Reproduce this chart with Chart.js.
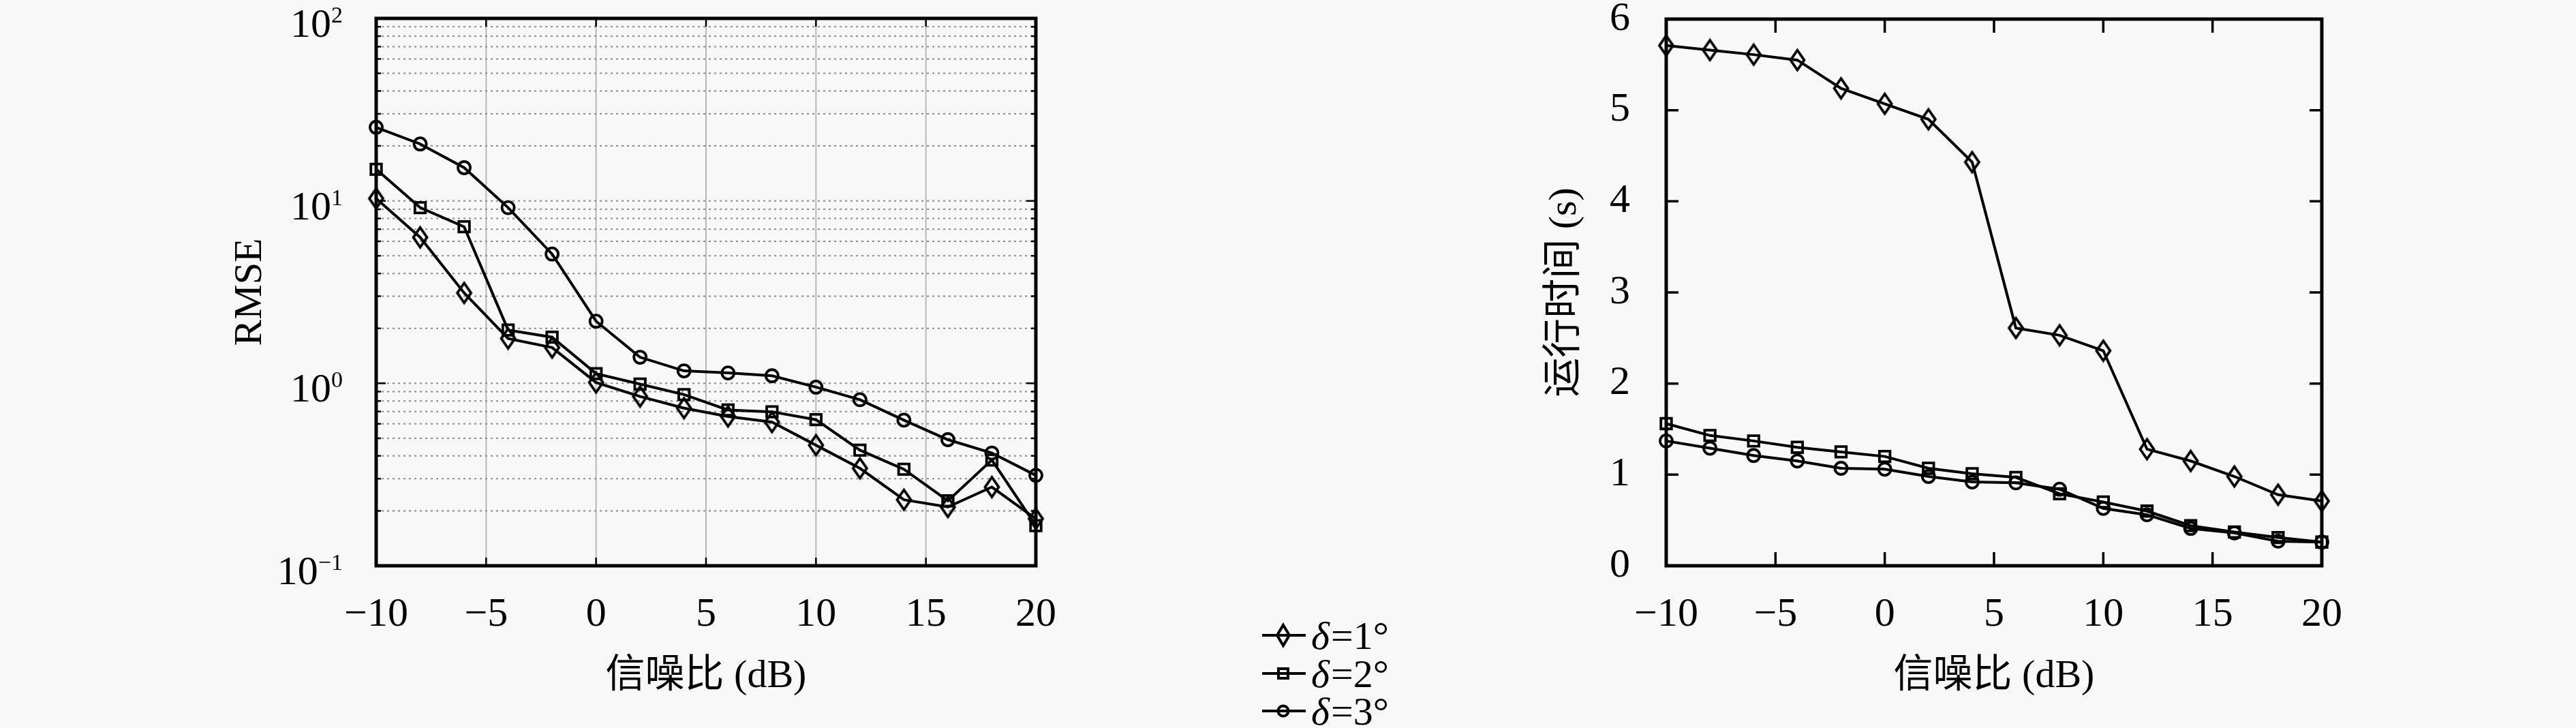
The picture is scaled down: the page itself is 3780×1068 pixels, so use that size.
<!DOCTYPE html>
<html>
<head>
<meta charset="utf-8">
<script src="https://cdn.jsdelivr.net/npm/chart.js@4.4.1/dist/chart.umd.min.js"></script>
<style>
    html, body { margin: 0; padding: 0; background: #f8f8f8; }
    body { width: 3780px; height: 1068px; position: relative; overflow: hidden; }
    #leftBox { position: absolute; left: 0; top: 0; width: 1640px; height: 1068px; }
    #rightBox { position: absolute; left: 2000px; top: 0; width: 1780px; height: 1068px; }
    .legRow { position: absolute; left: 1850px; height: 56px; display: flex; align-items: center;
              font-family: 'Liberation Serif', serif; font-size: 58px; color: #000; }
    .legRow svg { margin-right: 6px; }
    .legRow i { margin-right: 2px; }
</style>
</head>
<body>
<div id="leftBox"><canvas id="rmseChart"></canvas></div>
<div id="rightBox"><canvas id="timeChart"></canvas></div>
<div id="legend"></div>
<script>
// Datos
const snr = [-10, -8, -6, -4, -2, 0, 2, 4, 6, 8, 10, 12, 14, 16, 18, 20];

const rmseDelta1 = [10.3, 6.31, 3.13, 1.76, 1.57, 1.01, 0.847, 0.731, 0.658, 0.613, 0.458, 0.342, 0.230, 0.210, 0.270, 0.181];
const rmseDelta2 = [14.9, 9.18, 7.21, 1.96, 1.79, 1.13, 0.99, 0.867, 0.714, 0.698, 0.632, 0.430, 0.338, 0.227, 0.380, 0.166];
const rmseDelta3 = [25.3, 20.5, 15.2, 9.18, 5.11, 2.19, 1.39, 1.17, 1.14, 1.10, 0.953, 0.813, 0.628, 0.491, 0.415, 0.313];

const timeDelta1 = [5.71, 5.66, 5.61, 5.55, 5.24, 5.07, 4.90, 4.43, 2.61, 2.53, 2.36, 1.28, 1.15, 0.98, 0.78, 0.71];
const timeDelta2 = [1.56, 1.43, 1.37, 1.30, 1.25, 1.20, 1.07, 1.01, 0.97, 0.79, 0.70, 0.60, 0.44, 0.37, 0.31, 0.26];
const timeDelta3 = [1.37, 1.29, 1.21, 1.15, 1.07, 1.06, 0.98, 0.92, 0.91, 0.84, 0.63, 0.56, 0.41, 0.36, 0.27, 0.26];

const legendLabels = ['1°', '2°', '3°'];
const rmseDecades = [0.1, 1, 10, 100];
const rmseDecadeLabels = [['10', '−1'], ['10', '0'], ['10', '1'], ['10', '2']];

const SERIF = "'Liberation Serif', 'Noto Sans CJK SC', serif";
const TITLE_FONT = { size: 58, family: SERIF, lineHeight: 1.2 };
const TICK_FONT = { size: 60, family: SERIF };

// Rombo alargado (como el marcador de MATLAB)
function makeDiamond(w, h, lw) {
    const c = document.createElement('canvas');
    c.width = w + lw * 2;
    c.height = h + lw * 2;
    const g = c.getContext('2d');
    const cx = c.width / 2, cy = c.height / 2;
    g.strokeStyle = '#000';
    g.lineWidth = lw;
    g.beginPath();
    g.moveTo(cx, cy - h / 2);
    g.lineTo(cx + w / 2, cy);
    g.lineTo(cx, cy + h / 2);
    g.lineTo(cx - w / 2, cy);
    g.closePath();
    g.stroke();
    return c;
}
const diamond = makeDiamond(20, 29, 3.8);

function series(ys) {
    return snr.map((x, i) => ({ x: x, y: ys[i] }));
}

function dataset(label, ys, style, radius) {
    return {
        label: label,
        data: series(ys),
        borderColor: '#000',
        borderWidth: 4,
        pointStyle: style,
        pointRadius: radius,
        pointBorderWidth: 3.8,
        pointBorderColor: '#000',
        pointBackgroundColor: 'rgba(0,0,0,0)',
        tension: 0,
        clip: false
    };
}

const fmtSnr = v => (v < 0 ? '−' + Math.abs(v) : String(v));

// Marco, rejilla y marcas hacia dentro
const framePlugin = {
    id: 'frame',
    beforeDatasetsDraw(chart, args, opts) {
        const { ctx, chartArea: a } = chart;
        const x = chart.scales.x, y = chart.scales.y;
        ctx.save();
        if (opts.grid) {
            ctx.strokeStyle = '#b8b8b8';
            ctx.lineWidth = 2;
            x.ticks.forEach(t => {
                const px = x.getPixelForValue(t.value);
                if (px > a.left + 3 && px < a.right - 3) {
                    ctx.beginPath(); ctx.moveTo(px, a.top); ctx.lineTo(px, a.bottom); ctx.stroke();
                }
            });
            ctx.setLineDash([3, 5]);
            ctx.strokeStyle = '#8a8a8a';
            y.ticks.forEach(t => {
                const py = y.getPixelForValue(t.value);
                if (py > a.top + 3 && py < a.bottom - 3) {
                    ctx.beginPath(); ctx.moveTo(a.left, py); ctx.lineTo(a.right, py); ctx.stroke();
                }
            });
            ctx.setLineDash([]);
        }
        ctx.strokeStyle = '#000';
        ctx.lineWidth = opts.tickWidth;
        x.ticks.forEach(t => {
            const px = x.getPixelForValue(t.value);
            if (px > a.left + 3 && px < a.right - 3) {
                ctx.beginPath();
                ctx.moveTo(px, a.bottom); ctx.lineTo(px, a.bottom - opts.xTick);
                ctx.moveTo(px, a.top); ctx.lineTo(px, a.top + opts.xTick);
                ctx.stroke();
            }
        });
        y.ticks.forEach(t => {
            const py = y.getPixelForValue(t.value);
            if (py > a.top + 3 && py < a.bottom - 3) {
                const len = (opts.majorValues && !opts.majorValues.includes(t.value)) ? opts.yMinorTick : opts.yTick;
                ctx.beginPath();
                ctx.moveTo(a.left, py); ctx.lineTo(a.left + len, py);
                ctx.moveTo(a.right, py); ctx.lineTo(a.right - len, py);
                ctx.stroke();
            }
        });
        ctx.lineWidth = opts.frameWidth;
        ctx.strokeRect(a.left, a.top, a.width, a.height);
        ctx.restore();
    },
    afterDraw(chart, args, opts) {
        if (!opts.powerLabels) return;
        const { ctx, chartArea: a } = chart;
        const y = chart.scales.y;
        ctx.save();
        ctx.fillStyle = '#000';
        ctx.textBaseline = 'alphabetic';
        rmseDecades.forEach((v, i) => {
            const py = y.getPixelForValue(v);
            const [base, exp] = rmseDecadeLabels[i];
            ctx.font = '34px ' + SERIF;
            const ew = ctx.measureText(exp).width;
            const right = a.left - 49;
            ctx.textAlign = 'right';
            ctx.fillText(exp, right, py + 6);
            ctx.font = '60px ' + SERIF;
            ctx.fillText(base, right - ew, py + 27);
        });
        ctx.restore();
    }
};

function xScale() {
    return {
        type: 'linear',
        min: -10,
        max: 20,
        ticks: { stepSize: 5, font: TICK_FONT, color: '#000', padding: 36, callback: fmtSnr, maxRotation: 0 },
        grid: { display: false, drawTicks: false },
        border: { display: false },
        title: { display: true, text: '信噪比 (dB)', font: TITLE_FONT, color: '#000', padding: { top: 0, bottom: 40 } },
        afterFit: s => { s.height = 238; s.paddingLeft = 0; s.paddingRight = 0; }
    };
}

const baseOptions = {
    responsive: true,
    maintainAspectRatio: false,
    animation: false,
    devicePixelRatio: 1,
    events: []
};

new Chart(document.getElementById('rmseChart'), {
    type: 'line',
    data: {
        datasets: [
            dataset('δ=1°', rmseDelta1, diamond, 12),
            dataset('δ=2°', rmseDelta2, 'rect', 11),
            dataset('δ=3°', rmseDelta3, 'circle', 9)
        ]
    },
    options: Object.assign({}, baseOptions, {
        layout: { padding: { top: 27, right: 120, left: 0, bottom: 0 } },
        scales: {
            x: xScale(),
            y: {
                type: 'logarithmic',
                min: 0.1,
                max: 100,
                ticks: { display: false },
                grid: { display: false, drawTicks: false },
                border: { display: false },
                title: { display: true, text: 'RMSE', font: TITLE_FONT, color: '#000', padding: { top: 333, bottom: 0 } },
                afterBuildTicks: s => {
                    const ticks = [];
                    for (let i = 0; i < rmseDecades.length - 1; i++) {
                        for (let m = 1; m < 10; m++) ticks.push({ value: m * rmseDecades[i] });
                    }
                    ticks.push({ value: rmseDecades[rmseDecades.length - 1] });
                    s.ticks = ticks;
                },
                afterFit: s => { s.width = 552; s.paddingTop = 0; s.paddingBottom = 0; }
            }
        },
        plugins: {
            legend: { display: false },
            tooltip: { enabled: false },
            frame: { grid: true, frameWidth: 5, tickWidth: 2.5, xTick: 12, yTick: 14, yMinorTick: 7,
                     majorValues: rmseDecades, powerLabels: true }
        }
    }),
    plugins: [framePlugin]
});

new Chart(document.getElementById('timeChart'), {
    type: 'line',
    data: {
        datasets: [
            dataset('δ=1°', timeDelta1, diamond, 12),
            dataset('δ=2°', timeDelta2, 'rect', 11),
            dataset('δ=3°', timeDelta3, 'circle', 9)
        ]
    },
    options: Object.assign({}, baseOptions, {
        layout: { padding: { top: 28, right: 373, left: 0, bottom: 0 } },
        scales: {
            x: xScale(),
            y: {
                type: 'linear',
                min: 0,
                max: 6,
                ticks: { stepSize: 1, font: TICK_FONT, color: '#000', padding: 53 },
                grid: { display: false, drawTicks: false },
                border: { display: false },
                title: { display: true, text: '运行时间 (s)', font: TITLE_FONT, color: '#000', padding: { top: 262, bottom: 0 } },
                afterFit: s => { s.width = 445; s.paddingTop = 0; s.paddingBottom = 0; }
            }
        },
        plugins: {
            legend: { display: false },
            tooltip: { enabled: false },
            frame: { grid: false, frameWidth: 5, tickWidth: 3.5, xTick: 20, yTick: 18 }
        }
    }),
    plugins: [framePlugin]
});

// Leyenda común entre las dos gráficas
const legendMarkers = [
    '<polygon points="33,13 42,28 33,43 24,28" fill="none" stroke="#000" stroke-width="4"/>',
    '<rect x="26" y="21" width="14" height="14" fill="none" stroke="#000" stroke-width="4"/>',
    '<circle cx="33" cy="28" r="7.5" fill="none" stroke="#000" stroke-width="4"/>'
];
const legendTops = [904, 960, 1015];
const legend = document.getElementById('legend');
legendLabels.forEach((lab, i) => {
    const row = document.createElement('div');
    row.className = 'legRow';
    row.style.top = legendTops[i] + 'px';
    row.innerHTML = '<svg width="68" height="56"><line x1="2" y1="28" x2="66" y2="28" stroke="#000" stroke-width="4"/>' +
        legendMarkers[i] + '</svg><span><i>δ</i>=' + lab + '</span>';
    legend.appendChild(row);
});
</script>
</body>
</html>
